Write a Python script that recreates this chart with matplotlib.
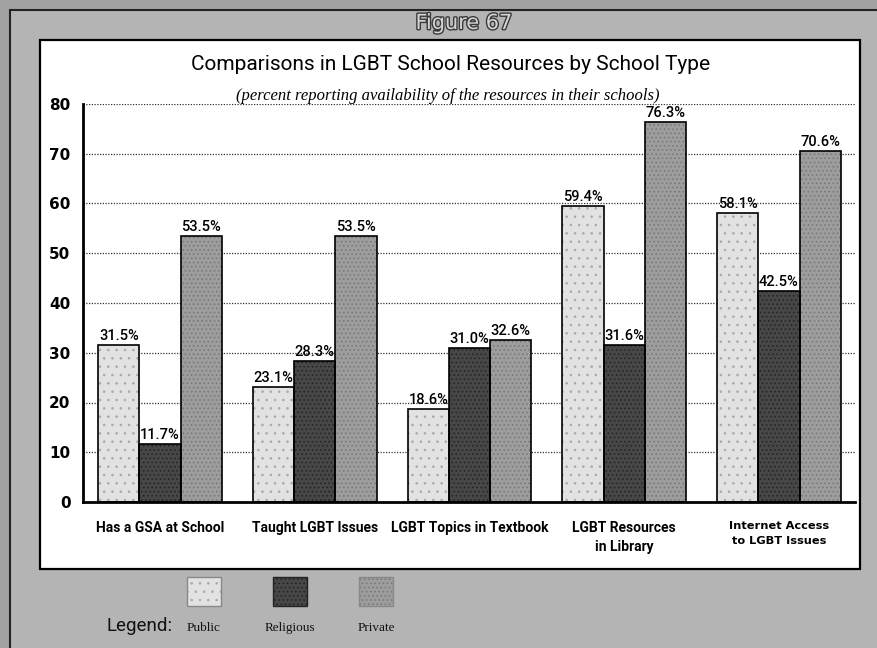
import matplotlib
matplotlib.use("Agg")
import matplotlib.pyplot as plt
import matplotlib.patheffects as pe
from matplotlib.patches import Rectangle
import numpy as np

CATEGORIES = ["Has a GSA at School", "Taught LGBT Issues", "LGBT Topics in Textbook",
              "LGBT Resources\nin Library", "Internet Access\nto LGBT Issues"]
PUBLIC = [31.5, 23.1, 18.6, 59.4, 58.1]
RELIGIOUS = [11.7, 28.3, 31.0, 31.6, 42.5]
PRIVATE = [53.5, 53.5, 32.6, 76.3, 70.6]
SERIES_NAMES = ["Public", "Religious", "Private"]
Y_TICKS = [0, 10, 20, 30, 40, 50, 60, 70, 80]

NARROW = ["Roboto", "DejaVu Sans"]
SERIF = ["Liberation Serif", "DejaVu Serif"]

# texture per series: (face, hatch, hatch colour)
STYLES = [("#e2e2e2", "..", "#a8a8a8"),
          ("#474747", "....", "#222222"),
          ("#9d9d9d", "....", "#767676")]

W, H = 878, 648
plt.rcParams["hatch.linewidth"] = 0.6

fig = plt.figure(figsize=(W / 100, H / 100), dpi=100, facecolor="#a3a3a3")

# background layer in pixel coordinates (frame, white panel, headings, legend)
bg = fig.add_axes([0, 0, 1, 1], zorder=0)
bg.set_xlim(0, W)
bg.set_ylim(H, 0)
bg.axis("off")
bg.add_patch(Rectangle((10, 10), W + 20, H + 20, facecolor="#b4b4b4", edgecolor="#222222", lw=1.5))
bg.add_patch(Rectangle((40, 40), 820, 529, facecolor="white", edgecolor="black", lw=1.6))

bg.text(464, 23, "Figure 67", ha="center", va="center", fontsize=15, color="#d4d4d4",
        path_effects=[pe.withStroke(linewidth=2, foreground="#3a3a3a")])
bg.text(451, 64, "Comparisons in LGBT School Resources by School Type", ha="center", va="center",
        fontsize=15, family=NARROW)
bg.text(448, 96, "(percent reporting availability of the resources in their schools)", ha="center",
        va="center", fontsize=12, style="italic", family=SERIF)

# legend below the panel
bg.text(140, 626, "Legend:", ha="center", va="center", fontsize=13.5, family=NARROW, color="#111111")
for i, (name, (face, hatch, hcol)) in enumerate(zip(SERIES_NAMES, STYLES)):
    x0 = 187 + i * 86
    bg.add_patch(Rectangle((x0, 577), 34, 29, facecolor=face, hatch=hatch, edgecolor=hcol, lw=0))
    bg.add_patch(Rectangle((x0, 577), 34, 29, fill=False, edgecolor="#222222" if i == 1 else "#888888", lw=1))
    bg.text(x0 + 17, 628, name, ha="center", va="center", fontsize=9.5, family=SERIF, color="#111111")

# main chart
ax = fig.add_axes([83 / W, 1 - 502 / H, (855 - 83) / W, (502 - 104) / H], zorder=1)
ax.set_facecolor("none")

n = len(CATEGORIES)
centers = 1.87 + 3.756 * np.arange(n)
for k, (vals, (face, hatch, hcol)) in enumerate(zip([PUBLIC, RELIGIOUS, PRIVATE], STYLES)):
    xs = centers + (k - 1)
    ax.bar(xs, vals, width=1.0, color=face, hatch=hatch, edgecolor=hcol, linewidth=0, zorder=2)
    ax.bar(xs, vals, width=1.0, fill=False, edgecolor="black", linewidth=1.2, zorder=3)
    for x, v in zip(xs, vals):
        ax.text(x, v + 0.4, f"{v:.1f}%", ha="center", va="bottom", fontsize=10.5,
                family=NARROW, fontweight="medium", zorder=4)

ax.set_xlim(0, 18.74)
ax.set_ylim(0, 80)
ax.set_yticks(Y_TICKS)
ax.set_yticklabels([str(t) for t in Y_TICKS], fontsize=11, fontweight="bold")
ax.tick_params(axis="y", length=0, pad=9)
ax.set_xticks(centers)
ax.set_xticklabels(CATEGORIES[:-1] + [""], fontsize=10, fontweight="bold", family=NARROW,
                   linespacing=1.45)
ax.tick_params(axis="x", length=0, pad=14)
ax.text(centers[-1], -3.9, CATEGORIES[-1], ha="center", va="top", fontsize=8.2,
        fontweight="bold", linespacing=1.6)

for t in Y_TICKS[1:]:
    ax.axhline(t, color="#333333", lw=0.9, ls=(0, (1, 1.2)), zorder=1)

for s in ["top", "right"]:
    ax.spines[s].set_visible(False)
ax.spines["left"].set_linewidth(2)
ax.spines["bottom"].set_linewidth(2)

fig.savefig("out.png", dpi=100, facecolor=fig.get_facecolor())
